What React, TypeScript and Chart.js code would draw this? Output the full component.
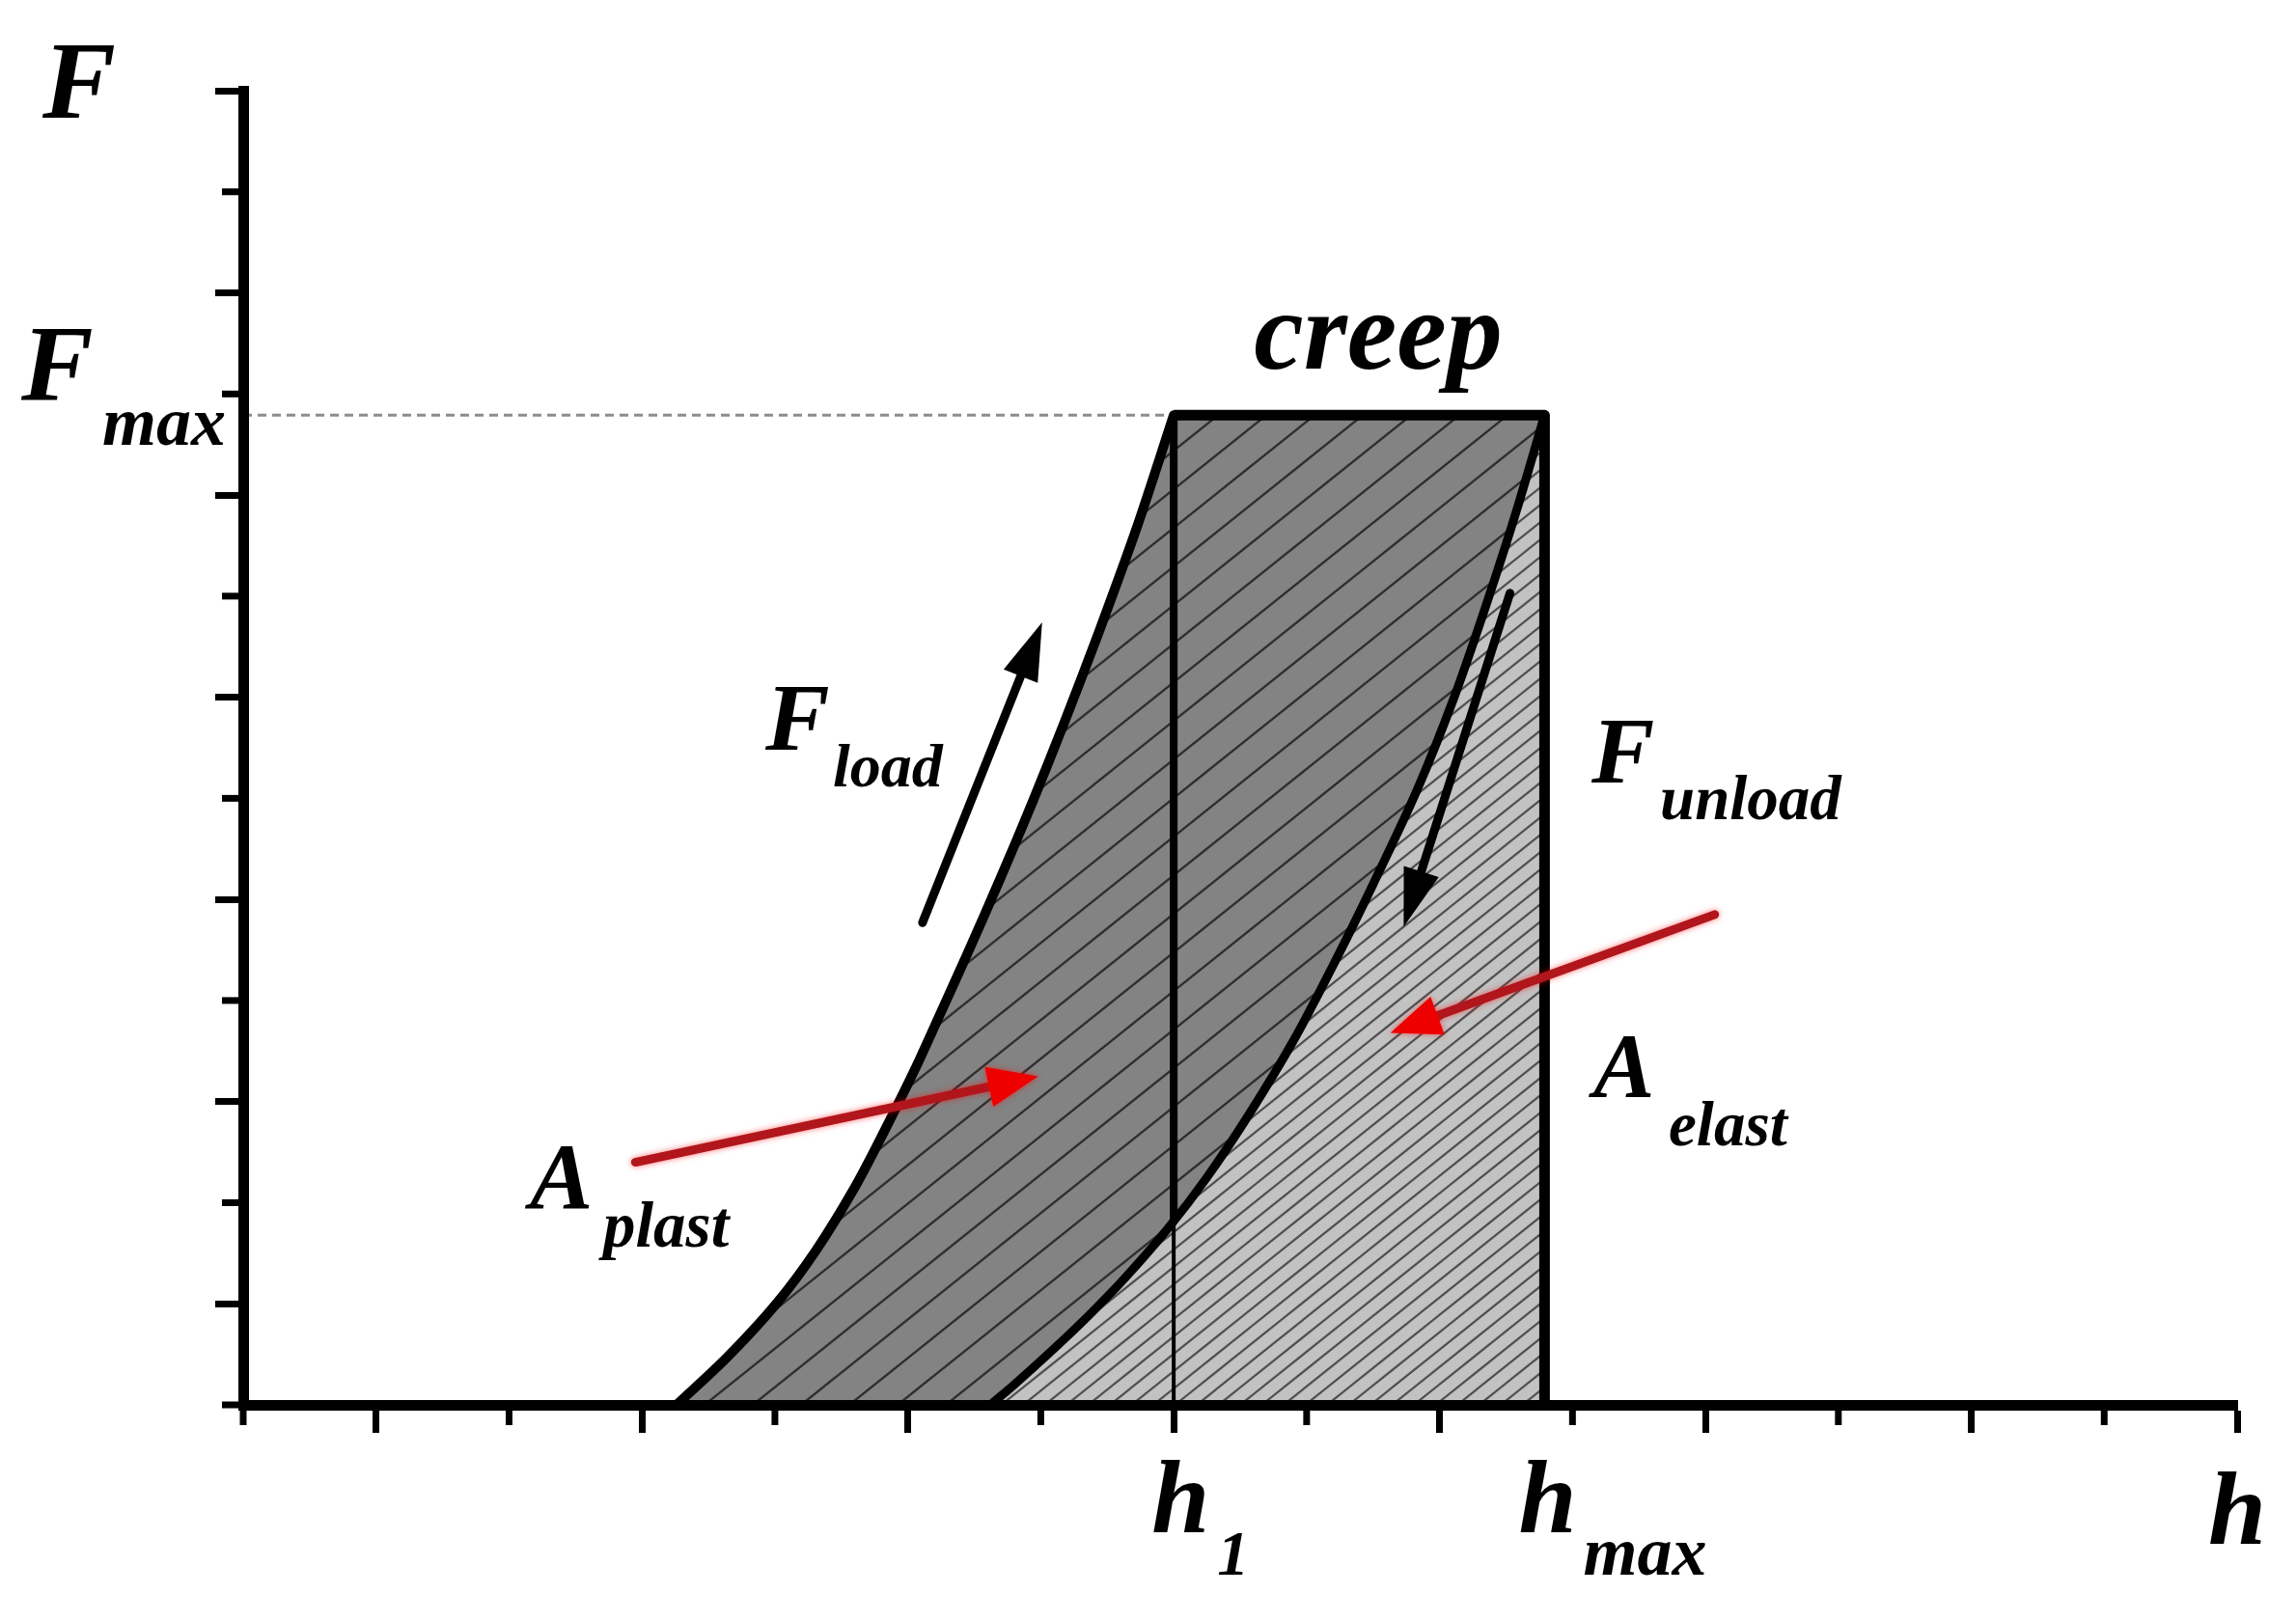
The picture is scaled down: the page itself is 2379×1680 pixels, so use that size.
import React, { useEffect, useRef } from "react";
import { Chart, registerables } from "chart.js";

Chart.register(...registerables);

// ---- data ----
const F_MAX = 9.79;
const H_1 = 7.0;
const H_MAX = 9.79;

const X_MIN = 0;
const X_MAX = 15;
const Y_MIN = 0;
const Y_MAX = 13;

// loading curve
const loadH = [3.26, 3.64, 4.01, 4.31, 4.6, 4.82, 5.05, 5.21, 5.45, 5.7, 5.94, 6.18, 6.43, 6.72, 7.0];
const loadF = [0, 0.47, 1.0, 1.53, 2.15, 2.7, 3.31, 3.77, 4.47, 5.22, 5.97, 6.76, 7.62, 8.67, 9.79];

// unloading curve
const unloadH = [5.62, 5.8, 6.07, 6.35, 6.63, 6.96, 7.25, 7.57, 7.9, 8.2, 8.5, 8.83, 9.11, 9.36, 9.58, 9.79];
const unloadF = [0, 0.2, 0.52, 0.87, 1.25, 1.75, 2.25, 2.88, 3.6, 4.35, 5.15, 6.08, 7.0, 7.95, 8.85, 9.79];

// arrows: [tailH, tailF, tipH, tipF]
const arrowLoad = [5.11, 4.77, 6.01, 7.74];
const arrowUnload = [9.53, 8.03, 8.73, 4.73];
const arrowPlast = [2.95, 2.4, 5.98, 3.25];
const arrowElast = [11.07, 4.85, 8.63, 3.68];

const W = 2379;
const H = 1680;
const FONT = '"Liberation Serif", "Times New Roman", serif';

function makeHatch(bg: string, line: string, lw: number, slope: number, w: number, spacing: number) {
  const h = Math.round(slope * w);
  const c = document.createElement("canvas");
  c.width = w;
  c.height = h;
  const g = c.getContext("2d")!;
  g.fillStyle = bg;
  g.fillRect(0, 0, w, h);
  g.strokeStyle = line;
  g.lineWidth = lw;
  const n = Math.ceil((2 * h) / spacing) + 2;
  for (let k = -2; k <= n; k++) {
    const y0 = k * spacing;
    g.beginPath();
    g.moveTo(-10, y0 + 10 * slope);
    g.lineTo(w + 10, y0 - (w + 10) * slope);
    g.stroke();
  }
  return g.createPattern(c, "repeat");
}

function drawArrow(
  ctx: CanvasRenderingContext2D,
  x1: number, y1: number, x2: number, y2: number,
  color: string, headColor: string, lw: number, headLen: number, headW: number, glow: boolean
) {
  const a = Math.atan2(y2 - y1, x2 - x1);
  const bx = x2 - headLen * Math.cos(a);
  const by = y2 - headLen * Math.sin(a);
  ctx.save();
  if (glow) {
    ctx.shadowColor = "rgba(255,0,0,0.55)";
    ctx.shadowBlur = 6;
  }
  ctx.strokeStyle = color;
  ctx.lineWidth = lw;
  ctx.lineCap = "round";
  ctx.beginPath();
  ctx.moveTo(x1, y1);
  ctx.lineTo(bx + 4 * Math.cos(a), by + 4 * Math.sin(a));
  ctx.stroke();
  ctx.fillStyle = headColor;
  ctx.lineJoin = "round";
  ctx.beginPath();
  ctx.moveTo(x2, y2);
  ctx.lineTo(bx + (headW / 2) * Math.sin(a), by - (headW / 2) * Math.cos(a));
  ctx.lineTo(bx - (headW / 2) * Math.sin(a), by + (headW / 2) * Math.cos(a));
  ctx.closePath();
  ctx.fill();
  ctx.restore();
}

const minorTicksPlugin = {
  id: "minorTicks",
  afterDraw(chart: any) {
    const { ctx, chartArea } = chart;
    const xs = chart.scales.x;
    const ys = chart.scales.y;
    ctx.save();
    ctx.strokeStyle = "#000";
    ctx.lineWidth = 7;
    for (let v = X_MIN; v <= X_MAX; v += 2) {
      const px = xs.getPixelForValue(v);
      ctx.beginPath();
      ctx.moveTo(px, chartArea.bottom);
      ctx.lineTo(px, chartArea.bottom + 21);
      ctx.stroke();
    }
    for (let v = Y_MIN; v <= Y_MAX; v += 2) {
      const py = ys.getPixelForValue(v);
      ctx.beginPath();
      ctx.moveTo(chartArea.left, py);
      ctx.lineTo(chartArea.left - 22, py);
      ctx.stroke();
    }
    ctx.restore();
  },
};

const annotationsPlugin = {
  id: "annotations",
  afterDraw(chart: any) {
    const { ctx } = chart;
    const xs = chart.scales.x;
    const ys = chart.scales.y;
    const P = (a: number[]) => [
      xs.getPixelForValue(a[0]),
      ys.getPixelForValue(a[1]),
      xs.getPixelForValue(a[2]),
      ys.getPixelForValue(a[3]),
    ];
    let p = P(arrowLoad);
    drawArrow(ctx, p[0], p[1], p[2], p[3], "#000", "#000", 9, 60, 38, false);
    p = P(arrowUnload);
    drawArrow(ctx, p[0], p[1], p[2], p[3], "#000", "#000", 9, 60, 38, false);
    p = P(arrowPlast);
    drawArrow(ctx, p[0], p[1], p[2], p[3], "#b0161c", "#ee0000", 9, 52, 42, true);
    p = P(arrowElast);
    drawArrow(ctx, p[0], p[1], p[2], p[3], "#b0161c", "#ee0000", 9, 52, 42, true);

    const h1x = xs.getPixelForValue(H_1);
    const hmx = xs.getPixelForValue(H_MAX);
    const fmy = ys.getPixelForValue(F_MAX);
    const labels: [string, number, number, number, string][] = [
      ["F", 44, 122, 114, "left"],
      ["F", 22, fmy - 15, 112, "left"],
      ["max", 106, fmy + 31, 72, "left"],
      ["creep", 1428, 382, 116, "center"],
      ["F", 793, 777, 100, "left"],
      ["load", 863, 815, 64, "left"],
      ["F", 1649, 811, 98, "left"],
      ["unload", 1720, 849, 65, "left"],
      ["A", 1651, 1137, 95, "left"],
      ["elast", 1729, 1187, 65, "left"],
      ["A", 549, 1252, 98, "left"],
      ["plast", 625, 1292, 67, "left"],
      ["h", h1x - 23, 1588, 108, "left"],
      ["1", h1x + 45, 1632, 66, "left"],
      ["h", hmx - 27, 1588, 108, "left"],
      ["max", hmx + 40, 1632, 72, "left"],
      ["h", 2288, 1600, 108, "left"],
    ];
    ctx.save();
    ctx.fillStyle = "#000";
    ctx.textBaseline = "alphabetic";
    for (const [t, x, y, s, al] of labels) {
      ctx.font = `bold italic ${s}px ${FONT}`;
      ctx.textAlign = al as CanvasTextAlign;
      ctx.fillText(t, x, y);
    }
    ctx.restore();
  },
};

function unloadAt(h: number) {
  for (let i = 1; i < unloadH.length; i++) {
    if (h <= unloadH[i]) {
      const t = (h - unloadH[i - 1]) / (unloadH[i] - unloadH[i - 1]);
      return unloadF[i - 1] + t * (unloadF[i] - unloadF[i - 1]);
    }
  }
  return unloadF[unloadF.length - 1];
}

export default function App() {
  const ref = useRef<HTMLCanvasElement>(null);

  useEffect(() => {
    const canvas = ref.current!;
    const darkHatch = makeHatch("#838383", "#2e2e2e", 2.4, 0.8, 100, 40);
    const lightHatch = makeHatch("#c2c2c2", "#505050", 2.2, 0.8, 90, 18);

    const loadPts = loadH.map((h, i) => ({ x: h, y: loadF[i] }));
    const unloadPts = unloadH.map((h, i) => ({ x: h, y: unloadF[i] }));
    const darkShape = [
      ...loadPts,
      { x: H_MAX, y: F_MAX },
      ...unloadPts.slice().reverse(),
      { x: loadH[0], y: 0 },
    ];
    const lightShape = [...unloadPts, { x: H_MAX, y: 0 }, { x: unloadH[0], y: 0 }];
    const cross = unloadAt(H_1);

    const base = { pointRadius: 0, pointHoverRadius: 0, fill: false };
    const majorColor = (c: any) =>
      c.tick && Math.round(c.tick.value) % 2 === 1 ? "#000" : "rgba(0,0,0,0)";

    const chart = new Chart(canvas, {
      type: "line",
      data: {
        datasets: [
          { ...base, data: loadPts, borderColor: "#000", borderWidth: 10, tension: 0.3, borderCapStyle: "round", borderJoinStyle: "round", order: 1 },
          { ...base, data: unloadPts, borderColor: "#000", borderWidth: 9, tension: 0.3, borderCapStyle: "round", borderJoinStyle: "round", order: 1 },
          { ...base, data: [{ x: H_1, y: F_MAX }, { x: H_MAX, y: F_MAX }, { x: H_MAX, y: 0 }], borderColor: "#000", borderWidth: 11, tension: 0, borderJoinStyle: "round", order: 1 },
          { ...base, data: [{ x: H_1, y: cross }, { x: H_1, y: F_MAX }], borderColor: "#000", borderWidth: 8, tension: 0, order: 2 },
          { ...base, data: [{ x: H_1, y: 0 }, { x: H_1, y: cross }], borderColor: "#000", borderWidth: 4, tension: 0, order: 2 },
          { ...base, data: [{ x: 0, y: F_MAX }, { x: H_1, y: F_MAX }], borderColor: "#8c8c8c", borderWidth: 3, borderDash: [9, 6], tension: 0, order: 3 },
          { ...base, data: darkShape, borderColor: "rgba(0,0,0,0)", borderWidth: 1, backgroundColor: darkHatch as any, fill: "shape", tension: 0, order: 6 },
          { ...base, data: lightShape, borderColor: "rgba(0,0,0,0)", borderWidth: 1, backgroundColor: lightHatch as any, fill: "shape", tension: 0, order: 5 },
        ] as any,
      },
      options: {
        responsive: false,
        animation: false,
        devicePixelRatio: 1,
        events: [],
        layout: { padding: { left: 212, right: 61, top: 94, bottom: 184 } },
        plugins: {
          legend: { display: false },
          tooltip: { enabled: false },
          title: { display: false },
          filler: { drawTime: "beforeDatasetsDraw", propagate: false },
        },
        scales: {
          x: {
            type: "linear",
            min: X_MIN,
            max: X_MAX,
            afterFit: (s: any) => {
              s.height = 40;
            },
            ticks: { stepSize: 1, autoSkip: false, color: "rgba(0,0,0,0)", font: { size: 10 } },
            grid: { drawOnChartArea: false, drawTicks: true, tickLength: 29, tickWidth: 7, tickColor: majorColor },
            border: { display: true, color: "#000", width: 11, z: 1 },
          },
          y: {
            type: "linear",
            min: Y_MIN,
            max: Y_MAX,
            afterFit: (s: any) => {
              s.width = 40;
            },
            ticks: { stepSize: 1, autoSkip: false, color: "rgba(0,0,0,0)", font: { size: 10 } },
            grid: { drawOnChartArea: false, drawTicks: true, tickLength: 29, tickWidth: 7, tickColor: majorColor },
            border: { display: true, color: "#000", width: 11, z: 1 },
          },
        },
      } as any,
      plugins: [minorTicksPlugin, annotationsPlugin],
    });
    return () => chart.destroy();
  }, []);

  return (
    <div style={{ position: "fixed", left: 0, top: 0, width: W, height: H, background: "#fff" }}>
      <canvas ref={ref} width={W} height={H} style={{ display: "block", width: W, height: H }} />
    </div>
  );
}
